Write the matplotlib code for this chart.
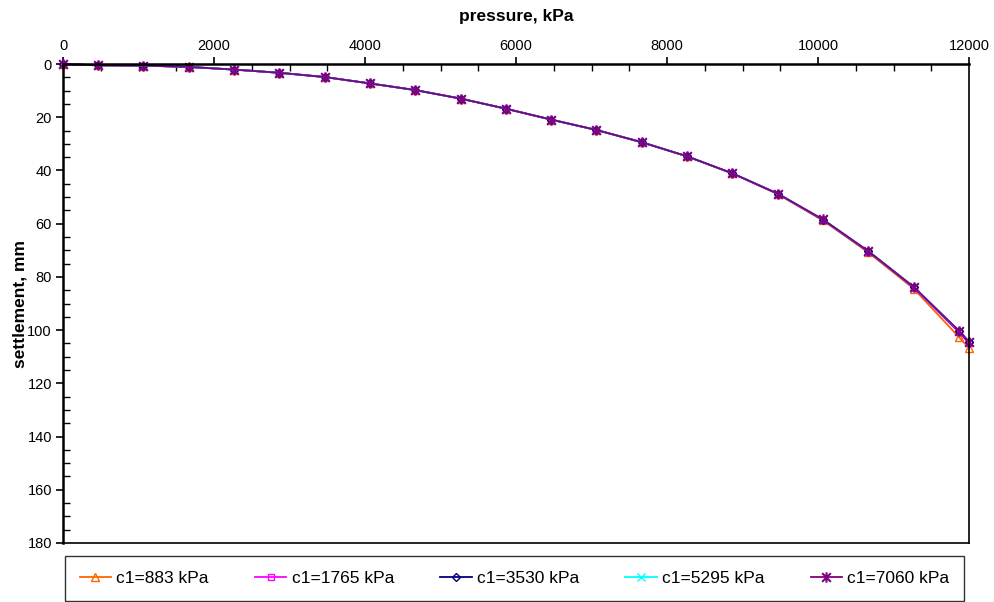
import matplotlib
matplotlib.use("Agg")
import matplotlib.pyplot as plt
from matplotlib.path import Path
from matplotlib.ticker import MultipleLocator

plt.rcParams['font.family'] = ['Liberation Sans', 'DejaVu Sans']

pressure = [0, 466, 1066, 1666, 2266, 2866, 3466, 4066, 4666, 5266, 5866,
            6466, 7066, 7666, 8266, 8866, 9466, 10066, 10666, 11266, 11866, 12000]

base = [0, 0.5, 0.6, 1.1, 2.1, 3.3, 4.9, 7.3, 9.8, 13.0, 16.8,
        20.9, 24.8, 29.4, 34.7, 41.1]
s_883 = base + [48.9, 58.8, 70.8, 84.4, 102.6, 106.8]
s_1765 = base + [48.8, 58.6, 70.5, 84.0, 100.8, 105.0]
s_3530 = base + [48.7, 58.5, 70.4, 83.8, 100.4, 104.6]
s_5295 = base + [48.7, 58.4, 70.3, 83.7, 100.3, 104.4]
s_7060 = base + [48.7, 58.4, 70.3, 83.7, 100.2, 104.3]

labels = ['c1=883 kPa', 'c1=1765 kPa', 'c1=3530 kPa', 'c1=5295 kPa', 'c1=7060 kPa']
colors = ['#FF6600', '#FF00FF', '#000080', '#00FFFF', '#800080']

star = Path([(-1, -1), (1, 1), (-1, 1), (1, -1), (0, -1.2), (0, 1.2)],
            [Path.MOVETO, Path.LINETO, Path.MOVETO, Path.LINETO, Path.MOVETO, Path.LINETO])
markers = ['^', 's', 'D', 'x', star]
msizes = [6, 4.5, 4, 5.5, 7.5]

fig = plt.figure(figsize=(9.94, 6.02), dpi=100)
ax = fig.add_axes([63/994, 1 - 543/602, (969 - 63)/994, (543 - 64)/602])

series = [s_883, s_1765, s_3530, s_5295, s_7060]
for s, lab, c, m, ms in zip(series, labels, colors, markers, msizes):
    ax.plot(pressure, s, color=c, lw=1.3, marker=m, markersize=ms,
            markerfacecolor='none' if m in ('^', 's', 'D') else c,
            markeredgecolor=c, markeredgewidth=1.0 if m is not star else 1.5,
            label=lab, clip_on=False)

ax.set_xlim(0, 12000)
ax.set_ylim(180, 0)
ax.xaxis.set_major_locator(MultipleLocator(2000))
ax.xaxis.set_minor_locator(MultipleLocator(500))
ax.yaxis.set_major_locator(MultipleLocator(20))
ax.yaxis.set_minor_locator(MultipleLocator(5))
ax.xaxis.tick_top()
ax.xaxis.set_label_position('top')
ax.tick_params(axis='both', which='major', direction='out', length=5, width=1.2,
               labelsize=10.5, pad=3)
ax.tick_params(axis='both', which='minor', direction='in', length=5, width=1.0)
ax.tick_params(axis='x', which='both', top=True, bottom=False)
for sp in ['top', 'left']:
    ax.spines[sp].set_linewidth(1.8)
for sp in ['right', 'bottom']:
    ax.spines[sp].set_linewidth(1.2)

ax.set_xlabel('pressure, kPa', fontsize=12.5, fontweight='bold', labelpad=13)
ax.set_ylabel('settlement, mm', fontsize=12.5, fontweight='bold', labelpad=0)

leg = fig.legend(loc='lower left', bbox_to_anchor=(65/994, 1 - 601/602, (964 - 65)/994, 44/602),
                 ncol=5, mode='expand', fontsize=12.5, frameon=True, fancybox=False,
                 edgecolor='black', handlelength=1.8, handletextpad=0.3,
                 borderaxespad=0, borderpad=0.85)
leg.get_frame().set_linewidth(1.0)

fig.savefig('out.png', dpi=100)
